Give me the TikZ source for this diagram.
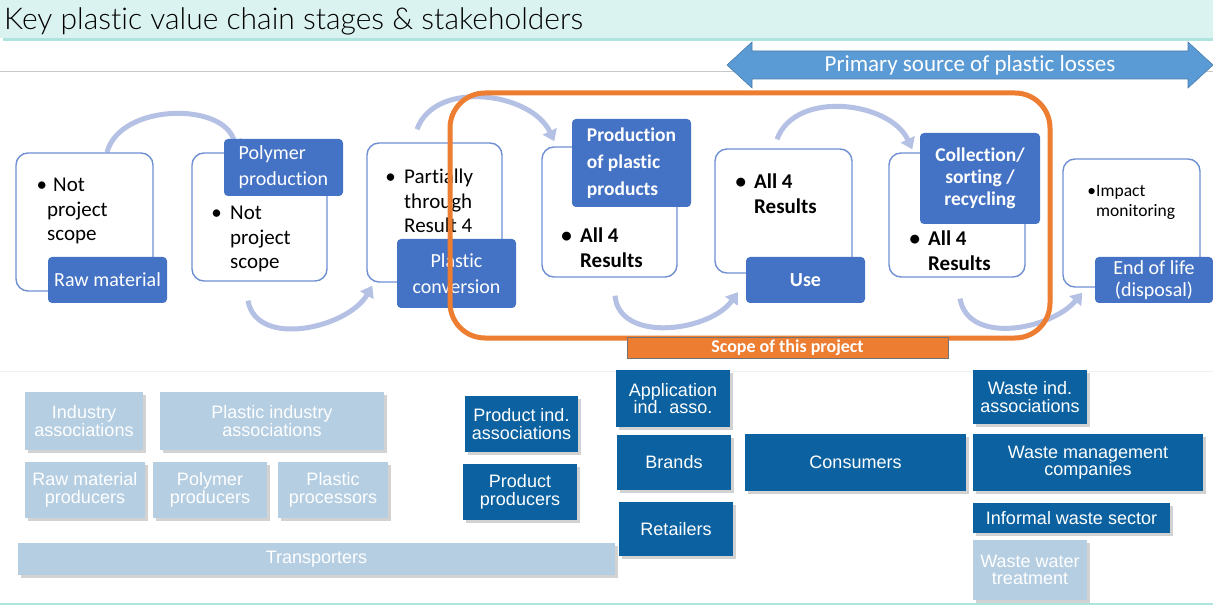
\documentclass[tikz,border=0pt]{standalone}
\usepackage{fontspec}
\setmainfont{Carlito}[Ligatures=NoCommon]
\newfontfamily\titlefont{Lato Light}[Ligatures=NoCommon]
\newfontfamily\cardfont{Liberation Sans}
\usetikzlibrary{arrows.meta,shadows,backgrounds}
\definecolor{bandcyan}{HTML}{DBF3F0}
\definecolor{bandline}{HTML}{AEE3DE}
\definecolor{stageblue}{HTML}{4472C4}
\definecolor{stageline}{HTML}{6F8FD3}
\definecolor{arcblue}{HTML}{B4C1E4}
\definecolor{lossblue}{HTML}{5B9BD5}
\definecolor{scopeorange}{HTML}{ED7D31}
\definecolor{cardlight}{HTML}{B5CEE2}
\definecolor{carddark}{HTML}{0C62A0}

\begin{document}
\begin{tikzpicture}[x=1pt, y=1pt,
    stagebox/.style={rectangle, draw=stageline, line width=1.4pt, rounded corners=12pt, fill=white, inner sep=0pt},
    stagelabel/.style={rectangle, fill=stageblue, rounded corners=4pt, text=white, inner sep=0pt, font=\fontsize{20}{26}\selectfont},
    bullets/.style={anchor=north west, align=left, inner sep=0pt, font=\fontsize{21}{24.5}\selectfont},
    turn/.style={line width=5pt, arcblue, -{Triangle[length=11pt, width=15pt]}},
    card/.style={rectangle, inner sep=0pt, align=center, text=white, font=\cardfont\fontsize{18}{17.5}\selectfont,
        drop shadow={shadow xshift=3pt, shadow yshift=-3pt, fill=black!35, opacity=.5}},
    lightcard/.style={card, fill=cardlight},
    darkcard/.style={card, fill=carddark}]
    \useasboundingbox (0,0) rectangle (1213,606);

    % title band
    \fill[bandcyan] (0,568) rectangle (1213,606);
    \fill[bandline] (3,565) rectangle (1213,568);
    \node[anchor=base west, inner sep=0pt, font=\titlefont\fontsize{30}{31}\selectfont] (title) at (4,576) {Key plastic value chain stages \& stakeholders};
    \draw[black!22, line width=1pt] (0,534) -- (1213,534);
    \draw[black!6, line width=1pt] (0,235) -- (1213,235);
    \draw[bandline, line width=1.5pt] (0,2) -- (1213,2);

    % losses arrow
    \filldraw[fill=lossblue, draw=lossblue!80!black, line width=0.6pt]
        (727,541) -- (752,564) -- (752,555) -- (1188,555) -- (1188,564) -- (1213,541)
        -- (1188,518) -- (1188,527) -- (752,527) -- (752,518) -- cycle;
    \node[text=white, font=\fontsize{23}{25}\selectfont] (losses) at (970,541) {Primary source of plastic losses};

    % stages
    \node[stagebox, minimum width=137, minimum height=138] (s1) at (84.5,384) {};
    \node[stagebox, minimum width=135, minimum height=128] (s2) at (259.5,389) {};
    \node[stagebox, minimum width=135, minimum height=139] (s3) at (434.5,393.5) {};
    \node[stagebox, minimum width=135, minimum height=130] (s4) at (609.5,394) {};
    \node[stagebox, minimum width=137, minimum height=124] (s5) at (783.5,395) {};
    \node[stagebox, minimum width=136, minimum height=124] (s6) at (957,391) {};
    \node[stagebox, minimum width=137, minimum height=128] (s7) at (1131.5,383) {};

    \node[bullets] (t1) at (47,428) {\llap{\textbullet}\hspace{6pt}Not\\project\\scope};
    \node[bullets] (t2) at (230,400) {\llap{\textbullet\ \,}Not\\project\\scope};
    \node[bullets] (t3) at (404,437) {\llap{\textbullet\ \,}Partially\\through\\Result 4};
    \node[bullets, font=\bfseries\fontsize{21}{24.5}\selectfont] (t4) at (580,378) {\llap{\textbullet\ \,}All 4\\Results};
    \node[bullets, font=\bfseries\fontsize{21}{24.5}\selectfont] (t5) at (754,432) {\llap{\textbullet\ \,}All 4\\Results};
    \node[bullets, font=\bfseries\fontsize{21}{24.5}\selectfont] (t6) at (928,375) {\llap{\textbullet\ \,}All 4\\Results};
    \node[bullets, font=\fontsize{17.5}{20}\selectfont] (t7) at (1096,421) {\llap{\textbullet}Impact\\monitoring};

    \node[stagelabel, minimum width=119, minimum height=46] (l1) at (107.5,326) {Raw material};
    \node[stagelabel, minimum width=119, minimum height=57, align=left] (l2) at (283.5,438.5) {Polymer\\production};
    \node[stagelabel, minimum width=119, minimum height=69, align=center] (l3) at (456.5,332.5) {Plastic\\conversion};
    \node[stagelabel, minimum width=119, minimum height=88, align=left, font=\bfseries\fontsize{19.5}{27}\selectfont] (l4) at (631.5,443) {Production\\of plastic\\products};
    \node[stagelabel, minimum width=119, minimum height=46, font=\bfseries\fontsize{20}{26}\selectfont] (l5) at (805.5,326) {Use};
    \node[stagelabel, minimum width=120, minimum height=91, align=center, font=\bfseries\fontsize{19.5}{22}\selectfont] (l6) at (980,427.5) {Collection/\\sorting /\\recycling};
    \node[stagelabel, minimum width=118, minimum height=46, align=center, font=\fontsize{20}{22}\selectfont] (l7) at (1154,326) {End of life\\(disposal)};

    \begin{pgfonlayer}{background}
        \draw[turn] ([xshift=22.5]s1.north) to[out=75, in=105] ([shift={(13,-12)}]l2.north west);
        \draw[turn] ([shift={(-11.5,-19)}]s2.south) to[out=-80, in=-120] ([shift={(6,-3)}]s3.south west);
        \draw[turn] ([shift={(-17.5,13)}]s3.north) to[out=70, in=115] ([shift={(13,5)}]s4.north west);
        \draw[turn] ([shift={(5.5,-18)}]s4.south) to[out=-85, in=-125] ([shift={(-8,11)}]l5.south west);
        \draw[turn] ([shift={(-6.5,9)}]s5.north) to[out=70, in=115] ([shift={(24,3)}]s6.north west);
        \draw[turn] ([shift={(3,-21)}]s6.south) to[out=-80, in=-130] ([shift={(20,-5)}]s7.south west);
    \end{pgfonlayer}

    % project scope
    \node[draw=scopeorange, line width=5pt, rounded corners=35pt, minimum width=600, minimum height=245] (frame) at (750,390.5) {};
    \node[fill=scopeorange, draw=black!55, line width=0.8pt, minimum width=321, minimum height=21, inner sep=0pt,
        text=white, font=\bfseries\fontsize{18}{19}\selectfont] (scope) at (787.5,258.5) {Scope of this project};

    % stakeholders
    \node[lightcard, minimum width=118, minimum height=58] (ia) at (84,185) {Industry\\associations};
    \node[lightcard, minimum width=224, minimum height=58] (pia) at (272,185) {Plastic industry\\associations};
    \node[lightcard, minimum width=120, minimum height=56] (rmp) at (85,116) {Raw material\\producers};
    \node[lightcard, minimum width=114, minimum height=56] (pop) at (210,116) {Polymer\\producers};
    \node[lightcard, minimum width=110, minimum height=56] (plp) at (333,116) {Plastic\\processors};
    \node[lightcard, minimum width=597, minimum height=32] (tra) at (316.5,47) {Transporters};
    \node[darkcard, minimum width=113, minimum height=56] (pra) at (521.5,182) {Product ind.\\associations};
    \node[darkcard, minimum width=114, minimum height=56] (prp) at (520,114) {Product\\producers};
    \node[darkcard, minimum width=114, minimum height=57] (apa) at (673,207.5) {Application\\ind. asso.};
    \node[darkcard, minimum width=114, minimum height=55] (bra) at (674,143.5) {Brands};
    \node[darkcard, minimum width=114, minimum height=54] (ret) at (676,77) {Retailers};
    \node[darkcard, minimum width=221, minimum height=57] (con) at (855.5,143.5) {Consumers};
    \node[darkcard, minimum width=114, minimum height=54] (wia) at (1030,209) {Waste ind.\\associations};
    \node[darkcard, minimum width=230, minimum height=57] (wmc) at (1088,143.5) {Waste management\\companies};
    \node[darkcard, minimum width=197, minimum height=30] (iws) at (1071.5,88) {Informal waste sector};
    \node[lightcard, minimum width=114, minimum height=60] (wwt) at (1030,36) {Waste water\\treatment};
\end{tikzpicture}
\end{document}
